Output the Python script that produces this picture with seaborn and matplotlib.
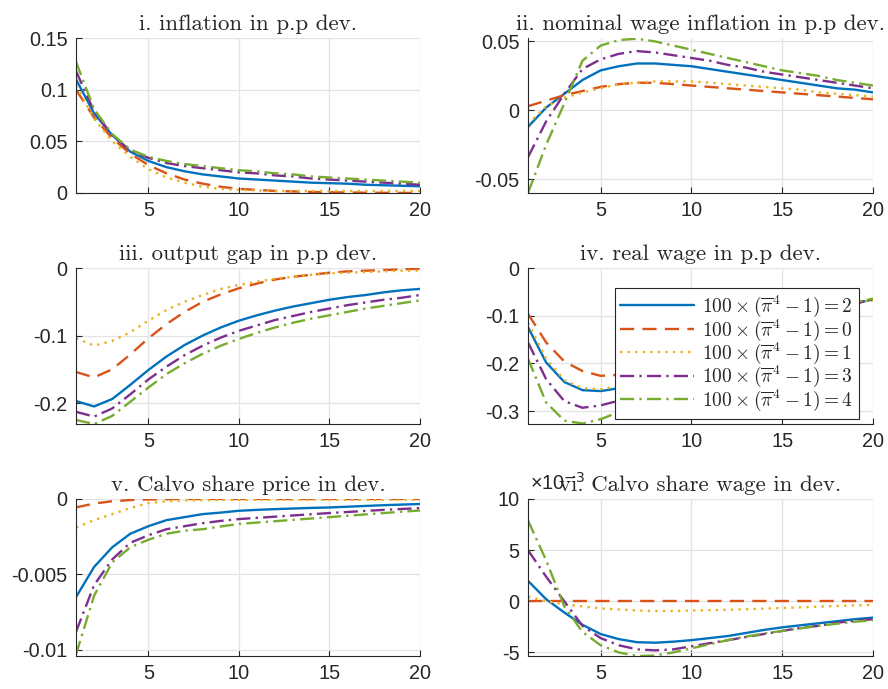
import matplotlib
matplotlib.use("Agg")
import matplotlib.pyplot as plt
import seaborn as sns
from matplotlib.ticker import FuncFormatter

# horizon
steps = list(range(1, 21))

# series order: trend inflation 2, 0, 1, 3, 4
series_labels = [r"$100\times(\overline{\pi}^4-1)=2$",
                 r"$100\times(\overline{\pi}^4-1)=0$",
                 r"$100\times(\overline{\pi}^4-1)=1$",
                 r"$100\times(\overline{\pi}^4-1)=3$",
                 r"$100\times(\overline{\pi}^4-1)=4$"]
colors = ["#0072BD", "#D95319", "#EDB120", "#7E2F8E", "#77AC30"]

titles = ["i. inflation in p.p dev.",
          "ii. nominal wage inflation in p.p dev.",
          "iii. output gap in p.p dev.",
          "iv. real wage in p.p dev.",
          "v. Calvo share price in dev.",
          "vi. Calvo share wage in dev."]

inflation = [
    [0.110, 0.077, 0.056, 0.040, 0.031, 0.025, 0.021, 0.018, 0.016, 0.014,
     0.013, 0.012, 0.011, 0.010, 0.0095, 0.009, 0.008, 0.0075, 0.007, 0.0065],
    [0.100, 0.073, 0.053, 0.038, 0.027, 0.019, 0.013, 0.009, 0.006, 0.004,
     0.003, 0.002, 0.0015, 0.001, 0.0007, 0.0005, 0.0003, 0.0002, 0.0001, 0.0001],
    [0.104, 0.072, 0.050, 0.035, 0.023, 0.015, 0.010, 0.006, 0.004, 0.003,
     0.0025, 0.002, 0.002, 0.002, 0.002, 0.002, 0.002, 0.002, 0.002, 0.002],
    [0.118, 0.079, 0.056, 0.041, 0.034, 0.029, 0.026, 0.024, 0.022, 0.020,
     0.019, 0.017, 0.016, 0.014, 0.013, 0.012, 0.011, 0.010, 0.009, 0.008],
    [0.127, 0.081, 0.057, 0.042, 0.035, 0.031, 0.028, 0.026, 0.024, 0.022,
     0.021, 0.019, 0.018, 0.016, 0.015, 0.014, 0.013, 0.012, 0.011, 0.010],
]

wage_inflation = [
    [-0.012, 0.002, 0.012, 0.022, 0.029, 0.032, 0.034, 0.034, 0.033, 0.032,
     0.030, 0.028, 0.026, 0.024, 0.022, 0.020, 0.018, 0.016, 0.015, 0.013],
    [0.003, 0.007, 0.011, 0.014, 0.017, 0.019, 0.020, 0.020, 0.019, 0.018,
     0.017, 0.016, 0.015, 0.014, 0.013, 0.012, 0.011, 0.010, 0.009, 0.008],
    [-0.010, 0.003, 0.009, 0.013, 0.016, 0.019, 0.020, 0.021, 0.021, 0.021,
     0.020, 0.019, 0.018, 0.017, 0.016, 0.015, 0.013, 0.012, 0.011, 0.010],
    [-0.034, -0.008, 0.012, 0.030, 0.037, 0.041, 0.043, 0.042, 0.040, 0.038,
     0.036, 0.033, 0.031, 0.028, 0.026, 0.024, 0.022, 0.020, 0.018, 0.016],
    [-0.060, -0.025, 0.005, 0.036, 0.047, 0.051, 0.052, 0.050, 0.047, 0.044,
     0.041, 0.038, 0.035, 0.032, 0.029, 0.027, 0.025, 0.022, 0.020, 0.018],
]

output_gap = [
    [-0.197, -0.205, -0.194, -0.173, -0.151, -0.131, -0.114, -0.100, -0.088, -0.078,
     -0.070, -0.063, -0.057, -0.052, -0.047, -0.043, -0.040, -0.036, -0.033, -0.031],
    [-0.154, -0.162, -0.150, -0.128, -0.104, -0.083, -0.065, -0.050, -0.039, -0.030,
     -0.023, -0.017, -0.013, -0.010, -0.007, -0.005, -0.004, -0.003, -0.002, -0.001],
    [-0.104, -0.115, -0.108, -0.095, -0.078, -0.062, -0.050, -0.040, -0.031, -0.025,
     -0.020, -0.016, -0.013, -0.010, -0.008, -0.007, -0.006, -0.005, -0.004, -0.004],
    [-0.213, -0.220, -0.208, -0.187, -0.165, -0.146, -0.129, -0.115, -0.103, -0.093,
     -0.085, -0.077, -0.071, -0.065, -0.060, -0.055, -0.051, -0.047, -0.044, -0.040],
    [-0.225, -0.231, -0.219, -0.198, -0.177, -0.157, -0.141, -0.127, -0.115, -0.105,
     -0.096, -0.088, -0.081, -0.075, -0.070, -0.065, -0.060, -0.056, -0.052, -0.048],
]

real_wage = [
    [-0.124, -0.198, -0.239, -0.256, -0.258, -0.252, -0.240, -0.225, -0.209, -0.193,
     -0.178, -0.163, -0.149, -0.135, -0.122, -0.110, -0.097, -0.086, -0.074, -0.066],
    [-0.096, -0.156, -0.196, -0.216, -0.226, -0.224, -0.215, -0.203, -0.190, -0.176,
     -0.162, -0.148, -0.135, -0.123, -0.112, -0.101, -0.091, -0.082, -0.074, -0.067],
    [-0.115, -0.190, -0.235, -0.252, -0.254, -0.248, -0.236, -0.222, -0.207, -0.191,
     -0.176, -0.161, -0.147, -0.134, -0.121, -0.109, -0.097, -0.086, -0.075, -0.066],
    [-0.156, -0.233, -0.279, -0.293, -0.288, -0.278, -0.262, -0.244, -0.226, -0.207,
     -0.189, -0.172, -0.156, -0.140, -0.125, -0.111, -0.098, -0.086, -0.075, -0.065],
    [-0.190, -0.282, -0.320, -0.326, -0.317, -0.302, -0.283, -0.262, -0.240, -0.218,
     -0.197, -0.177, -0.158, -0.141, -0.124, -0.109, -0.095, -0.083, -0.073, -0.064],
]

calvo_price = [
    [-0.0065, -0.0045, -0.0032, -0.0023, -0.0018, -0.0014, -0.0012, -0.0010, -0.0009, -0.00078,
     -0.00072, -0.00067, -0.00063, -0.00059, -0.00056, -0.00051, -0.00046, -0.00041, -0.00037, -0.00033],
    [-0.00056, -0.00030, -0.00015, -0.00007, -0.00003, -0.00001, 0.0, 0.0, 0.0, 0.0,
     0.0, 0.0, 0.0, 0.0, 0.0, 0.0, 0.0, 0.0, 0.0, 0.0],
    [-0.0019, -0.0014, -0.0010, -0.0006, -0.00027, -0.00015, -0.0001, -0.00008, -0.00006, -0.00005,
     -0.00005, -0.00005, -0.00005, -0.00005, -0.00005, -0.00005, -0.00005, -0.00005, -0.00005, -0.00005],
    [-0.0088, -0.0057, -0.0040, -0.0029, -0.0024, -0.0020, -0.0018, -0.0016, -0.00145, -0.00133,
     -0.00125, -0.00117, -0.00109, -0.00101, -0.00093, -0.00086, -0.00079, -0.00072, -0.00066, -0.0006],
    [-0.0103, -0.0064, -0.0042, -0.0032, -0.0027, -0.0023, -0.0021, -0.0020, -0.00182, -0.00165,
     -0.00156, -0.00147, -0.00138, -0.00129, -0.0012, -0.00111, -0.00102, -0.00093, -0.00084, -0.00076],
]

# in units of 1e-3
calvo_wage = [
    [2.0, 0.2, -1.1, -2.3, -3.2, -3.7, -4.0, -4.05, -3.95, -3.8,
     -3.6, -3.4, -3.1, -2.8, -2.55, -2.35, -2.15, -1.95, -1.75, -1.6],
    [0.0, 0.0, 0.0, 0.0, 0.0, 0.0, 0.0, 0.0, 0.0, 0.0,
     0.0, 0.0, 0.0, 0.0, 0.0, 0.0, 0.0, 0.0, 0.0, 0.0],
    [0.45, 0.0, -0.3, -0.5, -0.7, -0.8, -0.9, -0.95, -0.95, -0.9,
     -0.87, -0.83, -0.78, -0.72, -0.65, -0.6, -0.52, -0.46, -0.4, -0.35],
    [5.0, 2.4, 0.0, -2.4, -3.6, -4.3, -4.7, -4.8, -4.7, -4.4,
     -4.1, -3.8, -3.5, -3.2, -2.9, -2.6, -2.4, -2.1, -1.9, -1.75],
    [7.9, 4.0, -0.5, -3.0, -4.3, -5.0, -5.35, -5.3, -5.0, -4.6,
     -4.2, -3.8, -3.45, -3.15, -2.9, -2.65, -2.4, -2.2, -2.0, -1.85],
]

panels = [inflation, wage_inflation, output_gap, real_wage, calvo_price, calvo_wage]
ylims = [(0, 0.15), (-0.06, 0.0525), (-0.231, 0), (-0.327, 0), (-0.0104, 0), (-5.35, 10)]
yticks = [[0, 0.05, 0.1, 0.15], [-0.05, 0, 0.05], [-0.2, -0.1, 0],
          [-0.3, -0.2, -0.1, 0], [-0.01, -0.005, 0], [-5, 0, 5, 10]]

line_styles = ["-", (0, (6, 3.5)), (0, (1, 2.2)), (0, (6, 2.2, 1, 2.2)), (0, (6, 2.2, 1, 2.2))]

sns.set_style("ticks")
plt.rcParams["font.family"] = ["Liberation Sans", "DejaVu Sans"]
plt.rcParams["axes.unicode_minus"] = False
plt.rcParams["mathtext.fontset"] = "cm"

fig = plt.figure(figsize=(8.88, 6.89), dpi=100)

lefts = [76, 528]
tops = [38, 268, 499]
bottoms = [193, 424, 656]
widths = [344, 345]

dark = "#262626"
for i, data in enumerate(panels):
    r, c = divmod(i, 2)
    x0 = lefts[c] / 888
    y0 = 1 - bottoms[r] / 689
    ax = fig.add_axes([x0, y0, widths[c] / 888, (bottoms[r] - tops[r]) / 689])

    for k, vals in enumerate(data):
        sns.lineplot(x=steps, y=vals, ax=ax, color=colors[k], linestyle=line_styles[k],
                     linewidth=1.7)

    ax.set_xlim(1, 20)
    ax.set_ylim(*ylims[i])
    ax.set_xticks([5, 10, 15, 20])
    ax.set_yticks(yticks[i])
    ax.yaxis.set_major_formatter(FuncFormatter(lambda v, p: "%g" % v))
    ax.grid(True, color="#e3e3e3", linewidth=0.9)
    ax.set_axisbelow(True)
    for s in ["top", "right"]:
        ax.spines[s].set_visible(False)
    for s in ["left", "bottom"]:
        ax.spines[s].set_color(dark)
        ax.spines[s].set_linewidth(0.8)
    ax.tick_params(direction="in", length=4, width=0.8, color=dark,
                   labelsize=14.3, labelcolor=dark, pad=6)
    ax.set_title(titles[i], fontfamily="cmr10", fontsize=16.5, pad=6)
    ax.set_xlabel("")
    ax.set_ylabel("")

    if i == 3:
        leg = ax.legend(handles=ax.lines[:5], labels=series_labels, loc="upper right",
                        bbox_to_anchor=(0.959, 0.872), borderaxespad=0, fontsize=14,
                        handlelength=3.8, labelspacing=-0.1, borderpad=0.3,
                        handletextpad=0.4, fancybox=False, framealpha=1, edgecolor=dark)
        leg.get_frame().set_linewidth(0.8)
    if i == 5:
        ax.text(0.005, 1.03, r"×10$^{-3}$", transform=ax.transAxes, fontsize=14.3,
                color=dark, math_fontfamily="dejavusans", ha="left", va="bottom")

fig.savefig("out.png", dpi=100)
